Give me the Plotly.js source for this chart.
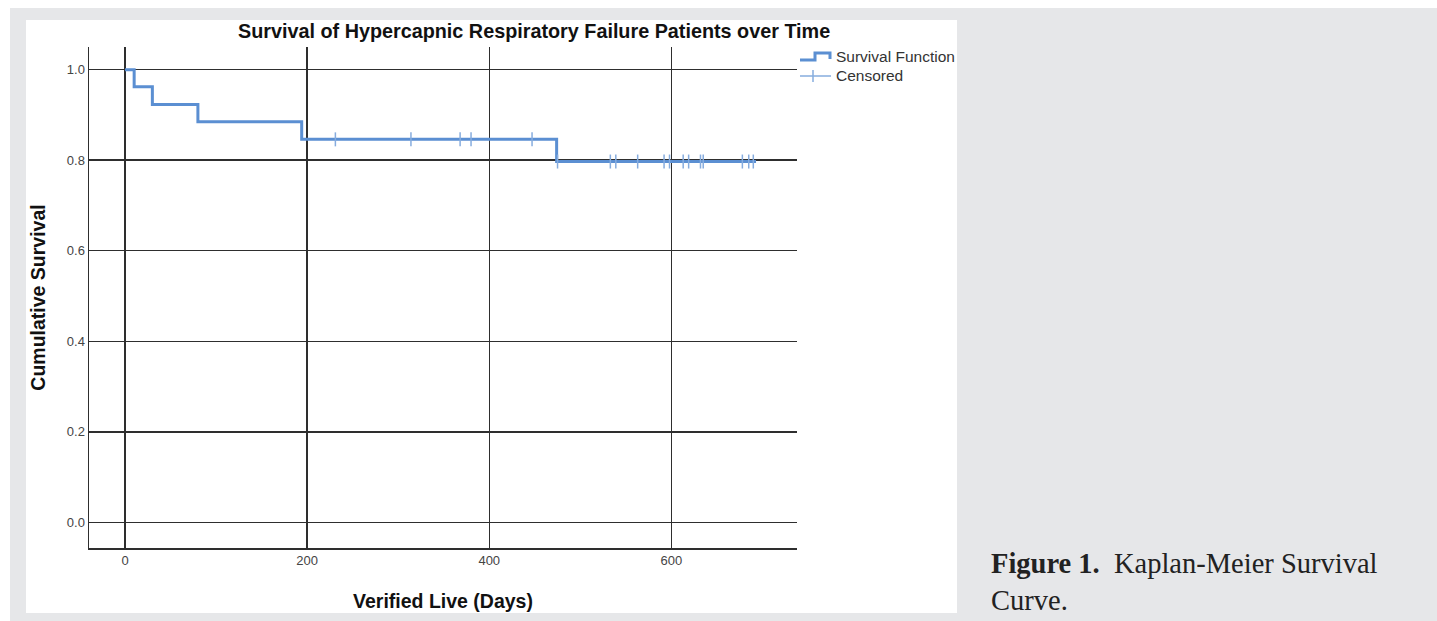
<!DOCTYPE html>
<html>
<head>
<meta charset="utf-8">
<script src="https://cdn.plot.ly/plotly-3.0.1.min.js"></script>
<style>
  html, body { margin: 0; padding: 0; background: #ffffff; width: 1437px; height: 621px; overflow: hidden; }
  #bgGray { position: absolute; left: 10px; top: 8px; width: 1427px; height: 613px; background: #e6e7e9; }
  #bgWhite { position: absolute; left: 26px; top: 20px; width: 931px; height: 593px; background: #ffffff; }
  #chart { position: absolute; left: 0; top: 0; width: 1437px; height: 621px; }
</style>
</head>
<body>
<div id="bgGray"></div>
<div id="bgWhite"></div>
<div id="chart"></div>
<script>
// ---- Data ----
const stepTimes    = [0, 10, 30, 80, 194, 474, 693];               // days
const stepSurvival = [1.0, 0.962, 0.923, 0.885, 0.846, 0.797, 0.797]; // cumulative survival
const censoredTimes = [231, 314, 368, 380, 447, 475, 533, 539, 563, 592, 598, 613, 619, 632, 635, 678, 685, 690];
const xTickVals = [0, 200, 400, 600];
const xTickText = ['0', '200', '400', '600'];
const yTickVals = [0.0, 0.2, 0.4, 0.6, 0.8, 1.0];
const yTickText = ['0.0', '0.2', '0.4', '0.6', '0.8', '1.0'];

// survival value at time t from the step function
function survivalAt(t) {
  let s = stepSurvival[0];
  for (let i = 0; i < stepTimes.length; i++) { if (stepTimes[i] <= t) s = stepSurvival[i]; }
  return s;
}
const censoredSurv = censoredTimes.map(survivalAt);

const lineColor = '#5b8fd2';
const censColor = '#86acde';
const gridColor = '#2e2e2e';

// plot-area geometry in pixels
const L = 89, R = 797, T = 47, B = 548, W = 1437, H = 621;
const px2x = p => (p - L) / (R - L);
const py2y = p => (B - p) / (B - T);

const traces = [
  {
    x: stepTimes, y: stepSurvival, type: 'scatter', mode: 'lines',
    line: { shape: 'hv', color: lineColor, width: 3 },
    name: 'Survival Function', hoverinfo: 'x+y'
  },
  {
    x: censoredTimes, y: censoredSurv, type: 'scatter', mode: 'markers',
    marker: { symbol: 'line-ns', size: 10, line: { color: censColor, width: 1.5 } },
    name: 'Censored', hoverinfo: 'x+y'
  }
];

const legendFont = { family: 'Liberation Sans, Arial, sans-serif', size: 15.5, color: '#333333' };

const layout = {
  width: W, height: H,
  margin: { l: L, r: W - R, t: T, b: H - B, pad: 0 },
  paper_bgcolor: 'rgba(0,0,0,0)',
  plot_bgcolor: 'rgba(0,0,0,0)',
  showlegend: false,
  xaxis: {
    range: [-39.6, 738],
    tickvals: xTickVals, ticktext: xTickText,
    ticks: '', showgrid: true, gridcolor: gridColor, gridwidth: 1.5,
    zeroline: false, showline: true, linecolor: gridColor, linewidth: 1.5,
    tickfont: { family: 'Liberation Sans, Arial, sans-serif', size: 13, color: '#444444' },
    title: { text: '<b>Verified Live (Days)</b>', standoff: 27,
             font: { family: 'Liberation Sans, Arial, sans-serif', size: 19.5, color: '#111111' } },
    fixedrange: true
  },
  yaxis: {
    range: [-0.0567, 1.05],
    tickvals: yTickVals, ticktext: yTickText,
    ticks: '', showgrid: true, gridcolor: gridColor, gridwidth: 1.5,
    zeroline: false, showline: true, linecolor: gridColor, linewidth: 1.5,
    tickfont: { family: 'Liberation Sans, Arial, sans-serif', size: 13, color: '#444444' },
    title: { text: '<b>Cumulative Survival</b>', standoff: 16,
             font: { family: 'Liberation Sans, Arial, sans-serif', size: 19.5, color: '#111111' } },
    fixedrange: true
  },
  shapes: [
    // legend icon: step line
    { type: 'path', xref: 'paper', yref: 'paper',
      path: 'M ' + px2x(800) + ' ' + py2y(60) + ' L ' + px2x(815) + ' ' + py2y(60) +
            ' L ' + px2x(815) + ' ' + py2y(53) + ' L ' + px2x(830) + ' ' + py2y(53) +
            ' L ' + px2x(830) + ' ' + py2y(59),
      line: { color: lineColor, width: 3 } },
    // legend icon: censored cross
    { type: 'line', xref: 'paper', yref: 'paper', x0: px2x(800), x1: px2x(831), y0: py2y(76), y1: py2y(76),
      line: { color: censColor, width: 1.5 } },
    { type: 'line', xref: 'paper', yref: 'paper', x0: px2x(813), x1: px2x(813), y0: py2y(70), y1: py2y(82),
      line: { color: censColor, width: 1.5 } }
  ],
  annotations: [
    { text: '<b>Survival of Hypercapnic Respiratory Failure Patients over Time</b>',
      xref: 'paper', yref: 'paper', x: px2x(533.5), y: py2y(31), xanchor: 'center', yanchor: 'middle',
      showarrow: false, font: { family: 'Liberation Sans, Arial, sans-serif', size: 19.8, color: '#111111' } },
    { text: 'Survival Function', xref: 'paper', yref: 'paper', x: px2x(834), y: py2y(57),
      xanchor: 'left', yanchor: 'middle', showarrow: false, font: legendFont },
    { text: 'Censored', xref: 'paper', yref: 'paper', x: px2x(834), y: py2y(76),
      xanchor: 'left', yanchor: 'middle', showarrow: false, font: legendFont },
    { text: '<b>Figure 1.</b>  Kaplan-Meier Survival<br>Curve.', xref: 'paper', yref: 'paper',
      x: px2x(989), y: py2y(581.5), xanchor: 'left', yanchor: 'middle', align: 'left',
      showarrow: false, font: { family: 'Liberation Serif, Times New Roman, serif', size: 28.5, color: '#222222' } }
  ]
};

Plotly.newPlot('chart', traces, layout, { displayModeBar: false, staticPlot: true });
</script>
</body>
</html>
